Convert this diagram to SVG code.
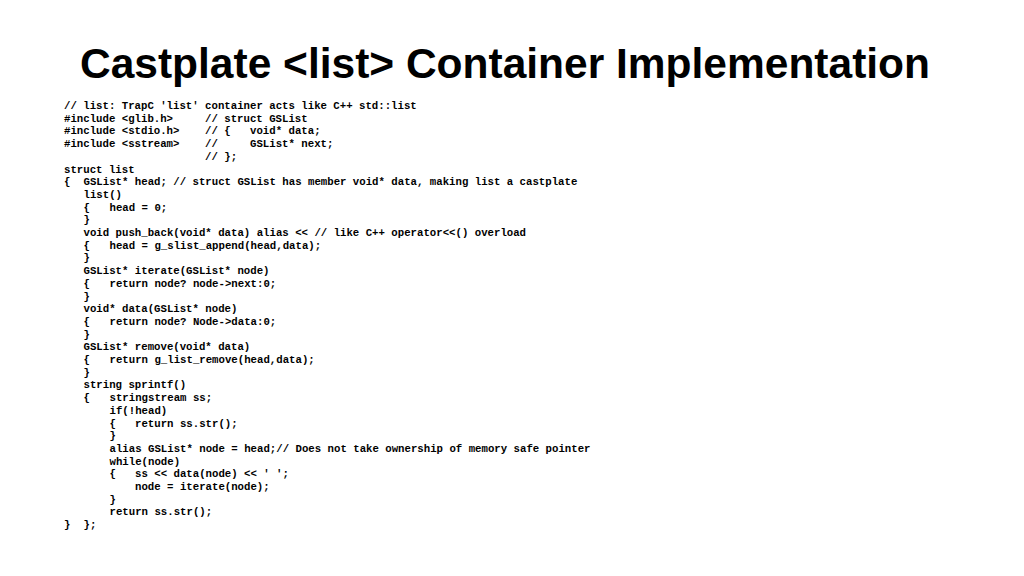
<svg xmlns="http://www.w3.org/2000/svg" width="1024" height="576" viewBox="0 0 1024 576">
<style>
.t{font-family:"Liberation Sans",Arial,sans-serif;font-weight:bold;font-size:42px;fill:#000}
.c text{font-family:"Liberation Mono","DejaVu Sans Mono",monospace;font-weight:bold;font-size:10.7px;fill:#000}
</style>
<rect width="1024" height="576" fill="#fff"/>
<g id="title"><text class="t" x="80" y="78" textLength="850" lengthAdjust="spacingAndGlyphs">Castplate &lt;list&gt; Container Implementation</text></g>
<g id="code" class="c">
<text x="64" y="109">// list: TrapC 'list' container acts like C++ std::list</text>
<text y="121.7"><tspan x="64">#include &lt;glib.h&gt;</tspan><tspan x="205">// struct GSList</tspan></text>
<text y="134.4"><tspan x="64">#include &lt;stdio.h&gt;</tspan><tspan x="205">// {</tspan><tspan x="250">void* data;</tspan></text>
<text y="147.1"><tspan x="64">#include &lt;sstream&gt;</tspan><tspan x="205">//</tspan><tspan x="250">GSList* next;</tspan></text>
<text x="205" y="159.8">// };</text>
<text x="64" y="172.5">struct list</text>
<text y="185.2"><tspan x="64">{</tspan><tspan x="83.5">GSList* head; // struct GSList has member void* data, making list a castplate</tspan></text>
<text x="83.5" y="197.9">list()</text>
<text y="210.6"><tspan x="83.5">{</tspan><tspan x="109.5">head = 0;</tspan></text>
<text x="83.5" y="223.3">}</text>
<text x="83.5" y="236">void push_back(void* data) alias &lt;&lt; // like C++ operator&lt;&lt;() overload</text>
<text y="248.7"><tspan x="83.5">{</tspan><tspan x="109.5">head = g_slist_append(head,data);</tspan></text>
<text x="83.5" y="261.4">}</text>
<text x="83.5" y="274.1">GSList* iterate(GSList* node)</text>
<text y="286.8"><tspan x="83.5">{</tspan><tspan x="109.5">return node? node-&gt;next:0;</tspan></text>
<text x="83.5" y="299.5">}</text>
<text x="83.5" y="312.2">void* data(GSList* node)</text>
<text y="324.9"><tspan x="83.5">{</tspan><tspan x="109.5">return node? Node-&gt;data:0;</tspan></text>
<text x="83.5" y="337.6">}</text>
<text x="83.5" y="350.3">GSList* remove(void* data)</text>
<text y="363"><tspan x="83.5">{</tspan><tspan x="109.5">return g_list_remove(head,data);</tspan></text>
<text x="83.5" y="375.7">}</text>
<text x="83.5" y="388.4">string sprintf()</text>
<text y="401.1"><tspan x="83.5">{</tspan><tspan x="109.5">stringstream ss;</tspan></text>
<text x="109.5" y="413.8">if(!head)</text>
<text y="426.5"><tspan x="109.5">{</tspan><tspan x="135">return ss.str();</tspan></text>
<text x="109.5" y="439.2">}</text>
<text x="109.5" y="451.9">alias GSList* node = head;// Does not take ownership of memory safe pointer</text>
<text x="109.5" y="464.6">while(node)</text>
<text y="477.3"><tspan x="109.5">{</tspan><tspan x="135">ss &lt;&lt; data(node) &lt;&lt; ' ';</tspan></text>
<text x="135" y="490">node = iterate(node);</text>
<text x="109.5" y="502.7">}</text>
<text x="109.5" y="515.4">return ss.str();</text>
<text y="528.1"><tspan x="64">}</tspan><tspan x="83.5">};</tspan></text>
</g>
</svg>
